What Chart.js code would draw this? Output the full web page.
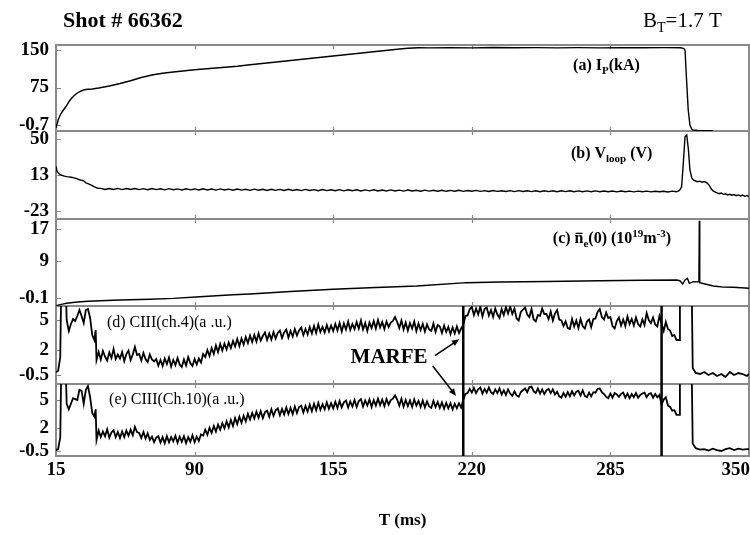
<!DOCTYPE html>
<html>
<head>
<meta charset="utf-8">
<title>Shot # 66362</title>
<script src="https://cdn.jsdelivr.net/npm/chart.js@4.4.1/dist/chart.umd.min.js"></script>
<style>
  html, body { margin: 0; padding: 0; background: #fff; }
</style>
</head>
<body>
<canvas id="shot" width="750" height="535"></canvas>
<script>
// time axis in ms (the original figure labels its first tick "15")
const xTickValues = [25, 90, 155, 220, 285, 350];
const xTickLabels = ['15', '90', '155', '220', '285', '350'];

// tick labels of the five panels
const ipTicks = [-0.7, 75, 150];
const vloopTicks = [-23, 13, 50];
const neTicks = [-0.1, 9, 17];
const ciii4Ticks = [-0.5, 2, 5];
const ciii10Ticks = [-0.5, 2, 5];

// MARFE onset / end (ms)
const marfeTimes = [216, 309];

// 2 ms grid over the flat-top (loop voltage)
const flatTopTime = [46, 48, 50, 52, 54, 56, 58, 60, 62, 64, 66, 68, 70, 72, 74, 76, 78, 80, 82, 84,
  86, 88, 90, 92, 94, 96, 98, 100, 102, 104, 106, 108, 110, 112, 114, 116, 118, 120, 122, 124,
  126, 128, 130, 132, 134, 136, 138, 140, 142, 144, 146, 148, 150, 152, 154, 156, 158, 160, 162, 164,
  166, 168, 170, 172, 174, 176, 178, 180, 182, 184, 186, 188, 190, 192, 194, 196, 198, 200, 202, 204,
  206, 208, 210, 212, 214, 216, 218, 220, 222, 224, 226, 228, 230, 232, 234, 236, 238, 240, 242, 244,
  246, 248, 250, 252, 254, 256, 258, 260, 262, 264, 266, 268, 270, 272, 274, 276, 278, 280, 282, 284,
  286, 288, 290, 292, 294, 296, 298, 300, 302, 304, 306, 308, 310, 312, 314, 316];

// 1 ms grid over the flat-top (CIII channels)
const ciiiFlatTime = [45, 46, 47, 48, 49, 50, 51, 52, 53, 54, 55, 56, 57, 58, 59, 60, 61, 62, 63, 64,
  65, 66, 67, 68, 69, 70, 71, 72, 73, 74, 75, 76, 77, 78, 79, 80, 81, 82, 83, 84,
  85, 86, 87, 88, 89, 90, 91, 92, 93, 94, 95, 96, 97, 98, 99, 100, 101, 102, 103, 104,
  105, 106, 107, 108, 109, 110, 111, 112, 113, 114, 115, 116, 117, 118, 119, 120, 121, 122, 123, 124,
  125, 126, 127, 128, 129, 130, 131, 132, 133, 134, 135, 136, 137, 138, 139, 140, 141, 142, 143, 144,
  145, 146, 147, 148, 149, 150, 151, 152, 153, 154, 155, 156, 157, 158, 159, 160, 161, 162, 163, 164,
  165, 166, 167, 168, 169, 170, 171, 172, 173, 174, 175, 176, 177, 178, 179, 180, 181, 182, 183, 184,
  185, 186, 187, 188, 189, 190, 191, 192, 193, 194, 195, 196, 197, 198, 199, 200, 201, 202, 203, 204,
  205, 206, 207, 208, 209, 210, 211, 212, 213, 214, 215, 216, 217, 218, 219, 220, 221, 222, 223, 224,
  225, 226, 227, 228, 229, 230, 231, 232, 233, 234, 235, 236, 237, 238, 239, 240, 241, 242, 243, 244,
  245, 246, 247, 248, 249, 250, 251, 252, 253, 254, 255, 256, 257, 258, 259, 260, 261, 262, 263, 264,
  265, 266, 267, 268, 269, 270, 271, 272, 273, 274, 275, 276, 277, 278, 279, 280, 281, 282, 283, 284,
  285, 286, 287, 288, 289, 290, 291, 292, 293, 294, 295, 296, 297, 298, 299, 300, 301, 302, 303, 304,
  305, 306, 307, 308, 309, 310, 311, 312, 313, 314, 315, 316];

// (a) plasma current
const ipTime = [25, 26, 27, 28, 29, 30, 31, 32, 33, 34, 35, 36, 37, 38, 39, 40,
  42, 45, 50, 55, 60, 65, 70, 75, 80,
  90, 100, 110, 116, 125, 135, 145, 155, 165, 175, 185, 190, 195,
  200, 210, 220, 230, 240, 250, 260, 270, 280, 290, 300, 310,
  318, 319.5, 320, 320.8, 321.5, 322.3, 323, 323.7, 326, 330, 333];
const ipValues = [-6, 10, 20, 27, 33, 39, 46, 52, 56.5, 60.5, 64, 66.5, 68.5, 70, 71, 71.5,
  72, 74, 78, 83, 88.5, 95, 100, 103.5, 106,
  110.5, 114, 117.5, 120.5, 124.5, 129, 133.5, 138, 142.5, 147, 151.5, 153.6, 154.6,
  154.2, 154.8, 154.3, 154.9, 154.4, 154.8, 154.3, 154.7, 154.2, 154.8, 154.4, 154.7,
  154.5, 153, 149, 84, 30, 0, -7, -10, -11, -11.4, -11.6];

// (b) loop voltage
const vloopStartTime = [25, 25.5, 26.2, 27, 28, 29, 30, 31, 32, 33, 34, 35, 36, 37, 38, 39, 40, 41, 42, 43, 44, 45];
const vloopStart = [22, 17, 15, 13.6, 12.8, 12.2, 11.7, 11.4, 11.0, 10.6, 10.1, 9.4, 8.5, 7.9, 7.4, 5.3, 4.6, 3.6, 2.5, 1.2, 0.3, -0.3];
const vloopFlat = [-0.3, -1.5, -0.4, -1.4, -0.3, -1.6, -0.5, -1.5, -0.4, -1.6, -0.6, -1.7, -0.5, -1.6, -0.7, -1.8, -0.6, -1.7, -0.8, -1.9,
  -0.7, -1.8, -0.9, -2.0, -0.8, -1.9, -1.0, -2.1, -0.9, -2.0, -1.1, -2.2, -1.0, -2.1, -1.2, -2.3, -1.1, -2.2, -1.3, -2.4,
  -1.2, -2.3, -1.4, -2.5, -1.3, -2.4, -1.5, -2.6, -1.4, -2.5, -1.6, -2.7, -1.5, -2.6, -1.7, -2.7, -1.6, -2.8, -1.8, -2.7,
  -1.7, -2.9, -1.9, -2.8, -1.8, -3.0, -2.0, -2.9, -1.9, -3.0, -2.1, -3.1, -2.0, -3.0, -2.2, -3.2, -2.1, -3.1, -2.3, -3.2,
  -2.2, -3.3, -2.4, -3.2, -2.3, -3.4, -2.5, -3.3, -2.4, -3.4, -2.6, -3.5, -2.5, -3.4, -2.7, -3.5, -2.6, -3.6, -2.6, -3.5,
  -2.7, -3.6, -2.7, -3.7, -2.7, -3.6, -2.8, -3.7, -2.8, -3.6, -2.8, -3.8, -2.9, -3.7, -2.9, -3.8, -2.9, -3.7, -3.0, -3.8,
  -3.0, -3.9, -3.0, -3.8, -3.1, -3.9, -3.1, -3.8, -3.1, -3.9, -3.2, -3.8, -3.2, -4.0, -3.1, -3.8];
const vloopEndTime = [317, 317.7, 318.4, 319.2, 320, 320.8, 321.6, 322.3, 323.2, 323.9, 325, 326, 327, 328, 329, 330.2, 331.3,
  332.5, 333.5, 334.8, 336, 337, 338, 339, 340, 341, 342, 343, 344, 345, 346, 347, 348, 349, 350];
const vloopEnd = [-3.0, -1.5, 1.4, 25.5, 52.3, 54, 38.8, 18.4, 10.0, 8.2, 7.2, 6.4, 7.0, 6.0, 6.6, 5.5, 3.0,
  -1.5, -3.5, -4.7, -5.8, -5.0, -6.4, -5.9, -7.0, -6.3, -7.3, -6.6, -7.8, -7.0, -8.1, -7.2, -8.4, -7.6, -8.6];

// (c) line-averaged density
const neTime = [25, 28, 30, 35, 40, 45.6, 55, 69.1, 80, 92.5, 108, 116, 135, 154.9, 175, 194.2, 217.6, 233.2,
  255, 280.1, 300, 316.1, 317.6, 318.9, 320, 321.1, 322, 323.9, 326.5, 326.7, 326.9, 329.4, 333.3, 338, 342.6, 350];
const neValues = [-2.0, -1.6, -1.4, -1.1, -0.9, -0.77, -0.6, -0.42, -0.2, 0.22, 0.72, 0.89, 1.5, 2.06, 2.5, 2.88, 3.7, 3.85,
  4.0, 4.19, 4.3, 4.36, 4.19, 3.37, 4.36, 4.78, 3.54, 3.94, 3.9, 19.06, 3.7, 3.37, 2.88, 2.6, 2.55, 2.31];

// (d), (e) CIII emission, same sampling for both channels
const ciiiStartTime = [25, 26, 27, 27.5, 29.5, 30, 31, 32, 33, 34, 35, 36, 37, 38, 39, 40, 41, 42, 43, 43.6, 44];
const ciiiEndTime = [317.2, 317.6, 323.1, 323.6, 325, 327, 329, 331, 333, 335, 337, 339, 341, 343, 345, 347, 349, 350];

const ciii4Start = [-0.2, -0.1, 1.3, 9, 9, 5.0, 3.9, 4.6, 5.1, 4.9, 5.4, 6.0, 5.4, 4.7, 6.0, 6.1, 5.2, 3.5, 3.0, 4.0, 1.0];
const ciii4Flat = [
  1.8, 1.05, 1.9, 1.35, 0.95, 1.75, 1.2, 2.1, 1.1, 1.55,
  1.15, 1.8, 0.9, 1.6, 1.95, 1.0, 1.55, 2.3, 1.5, 1.6,
  0.95, 1.7, 1.1, 0.8, 1.55, 1.05, 0.85, 1.1, 0.45, 1.0,
  0.4, 1.15, 0.6, 1.25, 0.35, 1.0, 0.5, 1.2, 0.55, 0.3,
  1.05, 0.45, 1.3, 0.7, 0.4, 1.1, 0.55, 1.15, 0.75, 1.6,
  1.3, 2.0, 1.4, 2.2, 1.6, 2.45, 1.8, 2.6, 1.95, 2.65,
  2.05, 2.75, 2.2, 2.9, 2.35, 3.1, 2.4, 3.15, 2.55, 3.3,
  2.7, 3.45, 2.8, 3.5, 2.85, 3.65, 2.95, 3.4, 3.75, 3.0,
  3.65, 3.05, 3.8, 3.15, 3.7, 3.95, 3.2, 3.75, 4.05, 3.25,
  3.9, 3.35, 4.1, 3.45, 3.95, 4.25, 3.5, 4.1, 3.55, 4.3,
  3.65, 4.4, 3.7, 4.55, 3.8, 4.3, 3.75, 4.5, 3.85, 4.45,
  3.9, 4.6, 3.95, 4.7, 3.85, 4.65, 4.05, 4.85, 4.0, 4.6,
  4.1, 4.8, 4.15, 4.95, 4.05, 4.7, 3.9, 4.75, 4.2, 4.9,
  4.15, 5.0, 4.25, 4.8, 4.1, 4.85, 4.3, 4.75, 4.9, 5.3,
  4.8, 4.2, 4.95, 4.05, 4.75, 3.95, 4.7, 4.15, 4.85, 3.9,
  4.65, 4.0, 4.6, 3.85, 4.55, 4.05, 3.9, 4.65, 3.8, 4.5,
  4.35, 3.7, 4.45, 3.8, 4.3, 3.6, 4.25, 3.65, 4.35, 3.7,
  4.15, 4.5, 5.4, 5.45, 6.05, 6.3, 5.5, 6.15, 5.55, 6.35,
  5.35, 6.1, 6.25, 5.45, 6.0, 5.3, 6.15, 5.55, 5.2, 6.1,
  5.5, 6.3, 5.65, 6.35, 5.6, 6.15, 5.15, 4.95, 5.8, 6.05,
  6.25, 5.55, 5.3, 6.1, 5.05, 4.85, 5.5, 5.4, 6.15, 5.6,
  5.6, 5.1, 5.85, 4.95, 5.65, 6.0, 5.05, 4.95, 4.4, 4.85,
  4.2, 4.1, 5.1, 4.35, 4.95, 4.2, 5.1, 4.4, 4.15, 4.85,
  5.05, 4.3, 5.1, 5.15, 5.8, 6.1, 5.3, 5.05, 5.75, 5.2,
  5.3, 4.4, 4.15, 4.9, 5.25, 4.45, 5.05, 4.4, 5.35, 4.6,
  5.1, 4.45, 5.25, 4.6, 4.35, 5.05, 4.5, 5.7, 5.0, 4.7,
  5.25, 4.55, 4.35, 5.4, 4.65, 3.9, 4.8, 4.1, 3.95, 3.4,
  3.5, 3.0];
const ciii4End = [3.0, 9, 9, 0.2, -0.3, -0.4, -0.2, -0.5, -0.3, -0.6, -0.4, -0.7, -0.2, -0.5, -0.3, -0.4, -0.6, -0.4];

const ciii10Start = [-0.4, -0.3, 1.0, 9, 9, 4.6, 4.0, 4.6, 5.2, 5.1, 5.0, 6.1, 6.0, 4.6, 6.1, 6.5, 5.3, 3.6, 3.2, 4.0, 0.7];
const ciii10Flat = [
  1.7, 1.0, 1.6, 1.1, 1.85, 0.95, 1.5, 1.75, 1.0, 1.55,
  0.9, 1.6, 1.0, 1.7, 1.15, 1.8, 1.2, 2.1, 1.55, 1.45,
  0.9, 1.55, 0.85, 1.4, 0.7, 1.05, 0.45, 0.95, 1.1, 0.4,
  1.0, 0.35, 1.1, 0.45, 1.0, 0.55, 1.15, 0.4, 1.05, 0.5,
  1.1, 0.35, 1.0, 0.5, 1.2, 0.45, 1.05, 0.6, 1.3, 1.15,
  1.8, 1.25, 2.0, 1.45, 2.2, 1.6, 2.35, 1.8, 2.5, 1.95,
  2.7, 2.05, 2.85, 2.2, 3.05, 2.4, 3.2, 2.55, 3.3, 2.7,
  3.5, 2.9, 3.6, 3.0, 3.75, 3.1, 3.8, 3.05, 3.7, 3.85,
  3.2, 4.0, 3.3, 3.9, 4.1, 3.35, 4.05, 3.45, 4.2, 3.5,
  4.15, 3.5, 4.3, 3.6, 4.25, 4.4, 3.65, 4.35, 3.75, 4.5,
  3.8, 4.6, 3.9, 4.7, 3.95, 4.55, 4.0, 4.75, 4.05, 4.65,
  4.1, 4.8, 4.15, 4.9, 4.2, 4.75, 4.95, 4.2, 4.85, 4.3,
  5.0, 4.25, 4.9, 5.1, 4.3, 4.95, 4.4, 5.05, 4.25, 5.0,
  4.4, 5.15, 4.45, 5.05, 4.35, 5.1, 4.5, 5.0, 5.15, 5.5,
  5.05, 4.4, 5.15, 4.3, 5.0, 4.35, 4.95, 4.25, 5.05, 4.4,
  4.9, 4.25, 4.95, 4.2, 4.85, 4.3, 4.15, 4.9, 4.25, 4.8,
  4.15, 4.75, 4.05, 4.7, 4.1, 4.65, 4.0, 4.6, 4.1, 4.65,
  4.2, 5.0, 5.65, 5.75, 6.2, 5.8, 6.3, 5.75, 6.15, 6.35,
  5.7, 6.2, 5.8, 6.35, 5.85, 5.65, 6.15, 5.75, 6.25, 5.6,
  6.05, 5.55, 6.15, 5.7, 5.45, 5.95, 5.5, 5.35, 5.85, 6.05,
  6.25, 5.85, 6.4, 6.45, 5.95, 5.75, 6.25, 5.7, 6.15, 5.65,
  6.05, 6.2, 5.75, 6.15, 5.6, 5.9, 5.4, 5.25, 5.75, 5.35,
  5.85, 5.4, 5.95, 5.5, 5.9, 6.0, 5.5, 6.05, 5.45, 5.3,
  5.8, 5.4, 5.85, 5.8, 6.2, 6.25, 5.85, 5.65, 5.35, 5.2,
  5.7, 5.25, 5.75, 5.6, 5.35, 5.65, 5.8, 5.25, 5.7, 5.2,
  5.65, 5.3, 5.75, 5.25, 5.55, 5.7, 5.8, 5.3, 5.65, 5.75,
  5.25, 5.65, 5.3, 5.55, 4.5, 5.05, 5.3, 4.4, 4.25, 3.85,
  3.9, 3.4];
const ciii10End = [3.4, 9, 9, 0.3, -0.2, -0.35, -0.3, -0.45, -0.25, -0.4, -0.5, -0.3, -0.2, -0.4, -0.25, -0.35, -0.3, -0.3];

const SERIF = '"Liberation Serif", "Times New Roman", serif';
const FRAME = '#8a8a8a';
const panelIds = ['yA', 'yB', 'yC', 'yD', 'yE'];

const vloopTime = [...vloopStartTime, ...flatTopTime, ...vloopEndTime];
const vloopValues = [...vloopStart, ...vloopFlat, ...vloopEnd];
const ciiiTime = [...ciiiStartTime, ...ciiiFlatTime, ...ciiiEndTime];
const ciii4Values = [...ciii4Start, ...ciii4Flat, ...ciii4End];
const ciii10Values = [...ciii10Start, ...ciii10Flat, ...ciii10End];

const series = [
  { axis: 'yA', t: ipTime, v: ipValues, w: 1.4 },
  { axis: 'yB', t: vloopTime, v: vloopValues, w: 1.4 },
  { axis: 'yC', t: neTime, v: neValues, w: 1.4 },
  { axis: 'yD', t: ciiiTime, v: ciii4Values, w: 1.8 },
  { axis: 'yE', t: ciiiTime, v: ciii10Values, w: 1.8 }
];

// panel captions: [text, 'sub' | 'sup' | 'bar' | undefined]
const panelLabels = [
  { axis: 'yA', t: 267.5, dy: 20, bold: true, size: 16, parts: [['(a) I'], ['P', 'sub'], ['(kA)']] },
  { axis: 'yB', t: 266.5, dy: 22, bold: true, size: 16, parts: [['(b) V'], ['loop', 'sub'], [' (V)']] },
  { axis: 'yC', t: 258, dy: 19, bold: true, size: 16,
    parts: [['(c) '], ['n', 'bar'], ['e', 'sub'], ['(0) (10'], ['19', 'sup'], ['m'], ['-3', 'sup'], [')']] },
  { axis: 'yD', t: 48.9, dy: 16, bold: false, size: 16, parts: [['(d) CIII(ch.4)(a .u.)']] },
  { axis: 'yE', t: 49.9, dy: 15, bold: false, size: 16, parts: [['(e) CIII(Ch.10)(a .u.)']] }
];

const marfeLabel = { t: 181.2, axis: 'yD', v: 1.2 };
const marfeArrows = [
  { from: [202.7, 'yD', 1.43], to: [214.1, 'yD', 3.07] },
  { from: [201.7, 'yD', 0.4], to: [212.6, 'yE', 5.44] }
];

function drawRich(ctx, x, cy, parts, size, bold) {
  const base = cy + size * 0.33;
  parts.forEach(p => {
    const txt = p[0], kind = p[1];
    const small = kind === 'sub' || kind === 'sup';
    const fs = small ? Math.round(size * 0.68) : size;
    ctx.font = (bold ? 'bold ' : '') + fs + 'px ' + SERIF;
    let y = base;
    if (kind === 'sub') y += size * 0.25;
    if (kind === 'sup') y -= size * 0.4;
    ctx.fillText(txt, x, y);
    const w = ctx.measureText(txt).width;
    if (kind === 'bar') ctx.fillRect(x + 1, base - size * 0.66, w - 2, 1.3);
    x += w;
  });
}

function arrow(ctx, x0, y0, x1, y1) {
  const ang = Math.atan2(y1 - y0, x1 - x0);
  ctx.beginPath();
  ctx.moveTo(x0, y0);
  ctx.lineTo(x1 - 5 * Math.cos(ang), y1 - 5 * Math.sin(ang));
  ctx.stroke();
  ctx.beginPath();
  ctx.moveTo(x1, y1);
  ctx.lineTo(x1 - 8 * Math.cos(ang - 0.4), y1 - 8 * Math.sin(ang - 0.4));
  ctx.lineTo(x1 - 8 * Math.cos(ang + 0.4), y1 - 8 * Math.sin(ang + 0.4));
  ctx.closePath();
  ctx.fill();
}

const panelsPlugin = {
  id: 'panels',
  beforeDatasetsDraw(chart) {
    const { ctx, chartArea: a, scales } = chart;
    ctx.save();
    ctx.strokeStyle = FRAME;
    panelIds.forEach(id => {
      const s = scales[id];
      ctx.lineWidth = 2;
      ctx.strokeRect(a.left, s.top, a.right - a.left, s.bottom - s.top);
      ctx.lineWidth = 1.2;
      ctx.beginPath();
      xTickValues.slice(1, -1).forEach(v => {
        const px = Math.round(scales.x.getPixelForValue(v)) + 0.5;
        ctx.moveTo(px, s.top); ctx.lineTo(px, s.top + 4);
        ctx.moveTo(px, s.bottom); ctx.lineTo(px, s.bottom - 4);
      });
      s.ticks.forEach(t => {
        const py = Math.round(s.getPixelForValue(t.value)) + 0.5;
        ctx.moveTo(a.left, py); ctx.lineTo(a.left + 5, py);
      });
      ctx.stroke();
    });
    ctx.restore();
  },
  // keep every trace inside its own panel
  beforeDatasetDraw(chart, args) {
    const s = args.meta.yScale, a = chart.chartArea, ctx = chart.ctx;
    ctx.save();
    ctx.beginPath();
    ctx.rect(a.left, s.top, a.right - a.left, s.bottom - s.top);
    ctx.clip();
  },
  afterDatasetDraw(chart) {
    chart.ctx.restore();
  },
  afterDatasetsDraw(chart) {
    const { ctx, scales } = chart;
    ctx.save();
    ctx.strokeStyle = '#000';
    ctx.lineWidth = 2.5;
    marfeTimes.forEach(t => {
      const px = scales.x.getPixelForValue(t);
      ctx.beginPath();
      ctx.moveTo(px, scales.yD.top);
      ctx.lineTo(px, scales.yE.bottom);
      ctx.stroke();
    });
    ctx.restore();
  },
  afterDraw(chart) {
    const { ctx, scales } = chart;
    ctx.save();
    ctx.fillStyle = '#000';
    ctx.textBaseline = 'alphabetic';
    ctx.textAlign = 'left';

    ctx.font = 'bold 22px ' + SERIF;
    ctx.fillText('Shot # 66362', 63, 27);
    drawRich(ctx, 643, 20, [['B'], ['T', 'sub'], ['=1.7 T']], 21, false);

    panelLabels.forEach(l => {
      drawRich(ctx, scales.x.getPixelForValue(l.t), scales[l.axis].top + l.dy, l.parts, l.size, l.bold);
    });

    // x tick labels, kept inside the canvas
    ctx.font = 'bold 19px ' + SERIF;
    ctx.textAlign = 'center';
    ctx.textBaseline = 'middle';
    xTickValues.forEach((v, i) => {
      const w = ctx.measureText(xTickLabels[i]).width;
      const px = Math.min(scales.x.getPixelForValue(v), chart.width - w / 2);
      ctx.fillText(xTickLabels[i], px, 470);
    });

    // MARFE annotation
    ctx.font = 'bold 21px ' + SERIF;
    ctx.fillText('MARFE', scales.x.getPixelForValue(marfeLabel.t), scales[marfeLabel.axis].getPixelForValue(marfeLabel.v));
    ctx.strokeStyle = '#000';
    ctx.lineWidth = 1.5;
    marfeArrows.forEach(m => {
      arrow(ctx,
        scales.x.getPixelForValue(m.from[0]), scales[m.from[1]].getPixelForValue(m.from[2]),
        scales.x.getPixelForValue(m.to[0]), scales[m.to[1]].getPixelForValue(m.to[2]));
    });
    ctx.restore();
  }
};

function panelAxis(min, max, weight, tickVals) {
  return {
    type: 'linear',
    position: 'left',
    stack: 'shot',
    stackWeight: weight,
    min: min,
    max: max,
    grid: { display: false, drawTicks: false },
    border: { display: false },
    afterBuildTicks: s => { s.ticks = tickVals.map(v => ({ value: v })); },
    afterFit: s => { s.width = 56; },
    ticks: {
      autoSkip: false,
      padding: 7,
      color: '#000',
      font: { family: SERIF, size: 19, weight: 'bold' },
      callback: v => String(v)
    }
  };
}

new Chart(document.getElementById('shot'), {
  type: 'line',
  data: {
    datasets: series.map(s => ({
      data: s.t.map((t, i) => ({ x: t, y: s.v[i] })),
      yAxisID: s.axis,
      xAxisID: 'x',
      borderColor: '#000',
      borderWidth: s.w,
      pointRadius: 0,
      tension: 0,
      fill: false
    }))
  },
  options: {
    responsive: false,
    animation: false,
    devicePixelRatio: 1,
    layout: { padding: { top: 45, right: 1, left: 0, bottom: 0 }, autoPadding: false },
    plugins: { legend: { display: false }, tooltip: { enabled: false }, title: { display: false } },
    scales: {
      x: {
        type: 'linear',
        position: 'bottom',
        min: 25,
        max: 350,
        grid: { display: false, drawTicks: false },
        border: { display: false },
        afterBuildTicks: s => { s.ticks = xTickValues.map(v => ({ value: v })); },
        afterFit: s => { s.height = 79; },
        ticks: { display: false },
        title: {
          display: true,
          text: 'T (ms)',
          color: '#000',
          font: { family: SERIF, size: 17, weight: 'bold' },
          padding: { top: 0, bottom: 4 }
        }
      },
      // stacked panels, listed bottom to top
      yE: panelAxis(-1.04, 6.73, 72, ciii10Ticks),
      yD: panelAxis(-1.4, 6.4, 78, ciii4Ticks),
      yC: panelAxis(-2.08, 19.48, 87, neTicks),
      yB: panelAxis(-31.5, 58.1, 88, vloopTicks),
      yA: panelAxis(-12, 160, 86, ipTicks)
    }
  },
  plugins: [panelsPlugin]
});
</script>
</body>
</html>
